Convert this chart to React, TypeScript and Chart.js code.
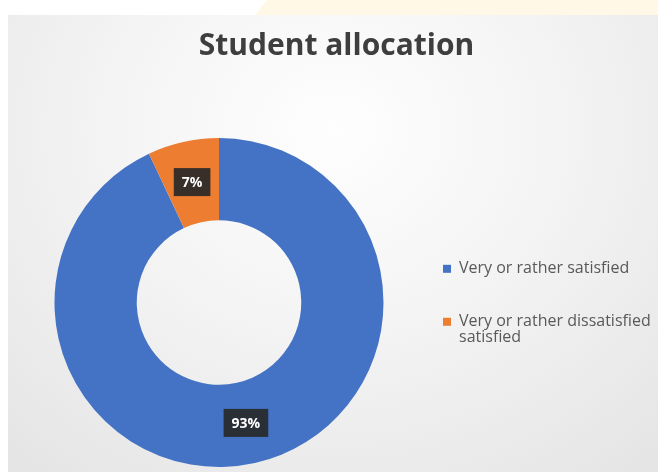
import React, { useEffect, useRef } from "react";
import { Chart, registerables, layouts } from "chart.js";

Chart.register(...registerables);

const titleText = "Student allocation";
const categories = ["Very or rather satisfied", "Very or rather dissatisfied satisfied"];
const legendText: (string | string[])[] = [
  "Very or rather satisfied",
  ["Very or rather dissatisfied", "satisfied"],
];
const shares = [93, 7];
const sliceColors = ["#4472C4", "#ED7D31"];

// Layout spacer on the left of the plot area (does not affect the full-width title)
const leftSpacer = {
  id: "leftSpacer",
  beforeInit(chart: any) {
    const box: any = {
      position: "left",
      weight: 10,
      fullSize: false,
      options: {},
      width: 0,
      height: 0,
      left: 0,
      top: 0,
      right: 0,
      bottom: 0,
      isHorizontal: () => false,
      getPadding: () => ({ top: 0, left: 0, right: 0, bottom: 0 }),
      update(_maxWidth: number, maxHeight: number) {
        this.width = 17;
        this.height = maxHeight;
        return this;
      },
      draw() {},
    };
    layouts.addBox(chart, box);
  },
};

const labelBoxes = {
  id: "labelBoxes",
  afterDatasetsDraw(chart: any) {
    const { ctx } = chart;
    const meta = chart.getDatasetMeta(0);
    const data = chart.data.datasets[0].data as number[];
    ctx.save();
    ctx.font = "bold 14px 'Open Sans'";
    ctx.textAlign = "center";
    ctx.textBaseline = "middle";
    meta.data.forEach((arc: any, i: number) => {
      const { x, y } = arc.getCenterPoint();
      const text = data[i] + "%";
      const w = ctx.measureText(text).width + 16;
      const h = 28;
      ctx.fillStyle = "rgba(40,40,40,0.92)";
      ctx.fillRect(x - w / 2, y - h / 2, w, h);
      ctx.fillStyle = "#ffffff";
      ctx.fillText(text, x, y + 1);
    });
    ctx.restore();
  },
};

export default function App() {
  const ref = useRef<HTMLCanvasElement | null>(null);

  useEffect(() => {
    if (!ref.current) return;
    const chart = new Chart(ref.current, {
      type: "doughnut",
      data: {
        labels: categories,
        datasets: [
          {
            data: shares,
            backgroundColor: sliceColors,
            borderWidth: 0,
          },
        ],
      },
      options: {
        responsive: false,
        animation: false,
        cutout: "50%",
        layout: { padding: { left: 7, right: 0, top: 0, bottom: 5 } },
        plugins: {
          tooltip: { enabled: false },
          title: {
            display: true,
            text: titleText,
            color: "#3e3e3e",
            font: { family: "Open Sans", size: 30, weight: "bold", lineHeight: 1.2 },
            padding: { top: 13, bottom: 74 },
          },
          legend: {
            position: "right",
            fullSize: false,
            maxWidth: 252,
            labels: {
              boxWidth: 8,
              boxHeight: 8,
              padding: 37,
              color: "#595959",
              font: { family: "Open Sans", size: 16, lineHeight: 0.95 },
              generateLabels: (c: any) =>
                c.data.labels.map((_: string, i: number) => ({
                  text: legendText[i],
                  fillStyle: sliceColors[i],
                  strokeStyle: sliceColors[i],
                  lineWidth: 0,
                  hidden: false,
                  index: i,
                  fontColor: "#595959",
                })),
            },
          },
        },
      },
      plugins: [leftSpacer, labelBoxes],
    });
    return () => chart.destroy();
  }, []);

  return (
    <div
      style={{
        position: "fixed",
        left: 0,
        top: 0,
        width: 658,
        height: 472,
        background: "#ffffff",
        overflow: "hidden",
      }}
    >
      <div
        style={{
          position: "absolute",
          left: 255,
          top: 0,
          width: 403,
          height: 15,
          background: "#fff8e6",
          clipPath: "polygon(12px 0, 100% 0, 100% 100%, 0 100%)",
        }}
      />
      <div
        style={{
          position: "absolute",
          left: 8,
          top: 15,
          width: 650,
          height: 457,
          background:
            "radial-gradient(ellipse 75% 95% at 50% 25%, #fefefe 0%, #f4f4f4 45%, #e5e5e5 100%)",
        }}
      >
        <canvas ref={ref} width={650} height={457} style={{ display: "block" }} />
      </div>
    </div>
  );
}
